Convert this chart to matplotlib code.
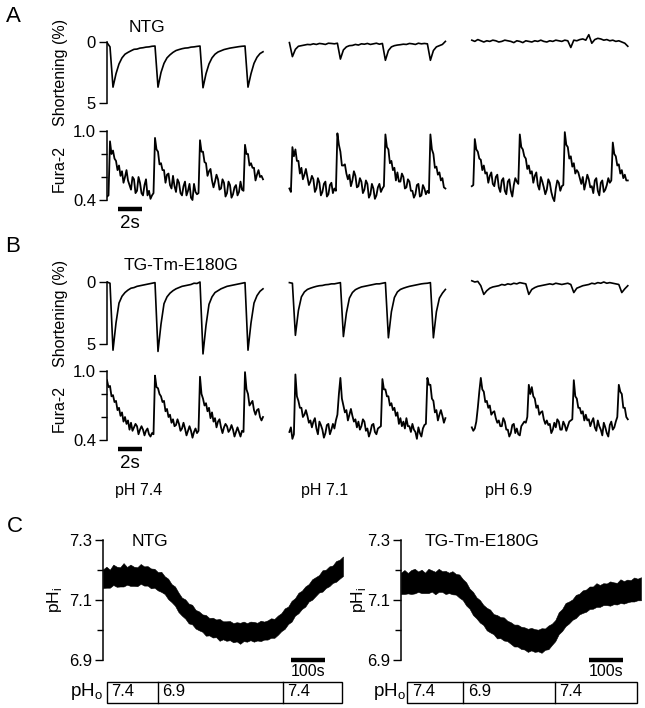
import matplotlib.pyplot as plt
import numpy as np
from matplotlib.patches import Rectangle
from matplotlib.transforms import blended_transform_factory

plt.rcParams['font.family'] = ['Liberation Sans', 'DejaVu Sans']
plt.rcParams['mathtext.fontset'] = 'custom'
plt.rcParams['mathtext.rm'] = 'Liberation Sans'

# ---- data: cell shortening (%) every 0.25 s, Fura-2 ratio every 0.125 s ----
DT_SHORT = 0.25
DT_FURA = 0.125
CONDITIONS = ['pH 7.4', 'pH 7.1', 'pH 6.9']
GENOTYPES = ['NTG', 'TG-Tm-E180G']

A_SHORT_74 = [0.05, 0.40, 3.70, 2.60, 1.80, 1.30, 1.00, 0.85, 0.72, 0.60,
              0.58, 0.50, 0.47, 0.42, 0.40, 0.35, 0.33, 3.70, 2.50, 1.75,
              1.30, 1.05, 0.85, 0.70, 0.62, 0.55, 0.50, 0.48, 0.42, 0.40,
              0.36, 0.33, 3.75, 2.60, 1.80, 1.30, 1.00, 0.82, 0.72, 0.62,
              0.56, 0.50, 0.46, 0.42, 0.38, 0.35, 0.33, 3.70, 2.60, 1.75,
              1.25, 0.95, 0.80]
A_SHORT_71 = [0.05, 1.20, 0.60, 0.35, 0.30, 0.25, 0.20, 0.22, 0.15, 0.20,
              0.12, 0.15, 0.20, 0.10, 0.12, 0.15, 0.10, 1.40, 0.65, 0.40,
              0.30, 0.28, 0.20, 0.25, 0.15, 0.18, 0.12, 0.20, 0.15, 0.10,
              0.18, 0.12, 1.50, 0.70, 0.40, 0.30, 0.25, 0.22, 0.18, 0.20,
              0.12, 0.15, 0.20, 0.10, 0.15, 0.12, 0.15, 1.50, 0.70, 0.40,
              0.30, 0.20, -0.05]
A_SHORT_69 = [-0.15, -0.05, -0.20, -0.10, 0.00, -0.10, -0.05, -0.15, -0.10, 0.00,
              -0.05, -0.15, -0.10, -0.05, 0.05, -0.10, -0.05, 0.05, -0.10, -0.05,
              0.00, -0.10, -0.05, -0.15, -0.05, 0.00, -0.10, -0.05, -0.15, -0.10,
              -0.05, -0.15, -0.10, 0.45, -0.15, -0.10, -0.20, -0.25, -0.15, -0.60,
              0.10, -0.20, -0.30, -0.25, -0.15, -0.20, -0.10, -0.15, -0.05, -0.10,
              0.00, 0.10, 0.35]

A_FURA_74 = [0.43, 0.44, 0.91, 0.80, 0.83, 0.76, 0.74, 0.66, 0.70, 0.61,
             0.65, 0.55, 0.60, 0.66, 0.57, 0.53, 0.49, 0.60, 0.58, 0.46,
             0.48, 0.60, 0.55, 0.46, 0.44, 0.53, 0.58, 0.44, 0.48, 0.41,
             0.44, 0.46, 0.94, 0.84, 0.82, 0.71, 0.72, 0.66, 0.66, 0.55,
             0.62, 0.63, 0.53, 0.50, 0.61, 0.52, 0.47, 0.58, 0.55, 0.46,
             0.44, 0.52, 0.56, 0.44, 0.48, 0.54, 0.42, 0.40, 0.54, 0.47,
             0.45, 0.46, 0.92, 0.82, 0.82, 0.73, 0.72, 0.61, 0.65, 0.67,
             0.57, 0.51, 0.56, 0.62, 0.58, 0.49, 0.50, 0.58, 0.55, 0.43,
             0.46, 0.56, 0.53, 0.42, 0.45, 0.51, 0.53, 0.44, 0.47, 0.56,
             0.49, 0.48, 0.88, 0.80, 0.80, 0.70, 0.72, 0.68, 0.68, 0.57,
             0.62, 0.66, 0.60, 0.61, 0.58]
A_FURA_71 = [0.50, 0.47, 0.86, 0.78, 0.84, 0.74, 0.74, 0.63, 0.68, 0.58,
             0.62, 0.67, 0.60, 0.53, 0.56, 0.61, 0.58, 0.47, 0.50, 0.59,
             0.55, 0.44, 0.47, 0.54, 0.56, 0.43, 0.45, 0.53, 0.55, 0.46,
             0.50, 0.48, 0.98, 0.88, 0.82, 0.70, 0.70, 0.71, 0.63, 0.58,
             0.62, 0.52, 0.57, 0.65, 0.61, 0.51, 0.52, 0.59, 0.56, 0.46,
             0.49, 0.57, 0.54, 0.42, 0.45, 0.54, 0.50, 0.41, 0.44, 0.51,
             0.54, 0.47, 0.50, 0.52, 0.97, 0.86, 0.84, 0.72, 0.74, 0.66,
             0.68, 0.57, 0.64, 0.56, 0.56, 0.63, 0.60, 0.50, 0.51, 0.58,
             0.56, 0.48, 0.48, 0.42, 0.45, 0.53, 0.54, 0.43, 0.44, 0.53,
             0.50, 0.45, 0.48, 0.46, 0.97, 0.84, 0.80, 0.68, 0.69, 0.62,
             0.64, 0.57, 0.59, 0.51, 0.50]
A_FURA_69 = [0.52, 0.53, 0.93, 0.84, 0.82, 0.76, 0.75, 0.66, 0.70, 0.63,
             0.64, 0.55, 0.61, 0.64, 0.54, 0.52, 0.60, 0.62, 0.51, 0.47,
             0.57, 0.59, 0.48, 0.45, 0.56, 0.58, 0.48, 0.43, 0.53, 0.59,
             0.56, 0.54, 0.97, 0.86, 0.84, 0.78, 0.76, 0.67, 0.70, 0.63,
             0.65, 0.55, 0.61, 0.64, 0.53, 0.49, 0.60, 0.56, 0.51, 0.45,
             0.49, 0.58, 0.55, 0.47, 0.42, 0.39, 0.50, 0.57, 0.55, 0.48,
             0.52, 0.53, 0.99, 0.88, 0.86, 0.76, 0.78, 0.69, 0.72, 0.63,
             0.66, 0.64, 0.59, 0.54, 0.60, 0.49, 0.55, 0.62, 0.58, 0.51,
             0.52, 0.46, 0.57, 0.59, 0.48, 0.44, 0.55, 0.57, 0.47, 0.49,
             0.53, 0.59, 0.55, 0.57, 0.90, 0.80, 0.78, 0.70, 0.71, 0.63,
             0.66, 0.59, 0.62, 0.57, 0.57]

B_SHORT_74 = [0.00, 0.10, 5.50, 3.30, 1.70, 1.15, 0.85, 0.65, 0.50, 0.45,
              0.35, 0.30, 0.25, 0.20, 0.15, 0.10, 0.05, 5.60, 3.40, 1.75,
              1.20, 0.90, 0.70, 0.55, 0.45, 0.35, 0.30, 0.25, 0.20, 0.10,
              0.12, 0.00, 5.80, 3.50, 1.80, 1.20, 0.85, 0.70, 0.55, 0.45,
              0.35, 0.30, 0.25, 0.20, 0.15, 0.10, 0.05, 5.50, 3.30, 1.70,
              1.10, 0.75, 0.55]
B_SHORT_71 = [0.05, 0.10, 4.30, 2.30, 1.20, 0.80, 0.60, 0.50, 0.42, 0.35,
              0.30, 0.28, 0.22, 0.20, 0.15, 0.15, 0.10, 0.05, 4.40, 2.50,
              1.30, 0.85, 0.62, 0.50, 0.40, 0.35, 0.30, 0.25, 0.20, 0.15,
              0.15, 0.10, 0.05, 4.50, 2.40, 1.25, 0.80, 0.60, 0.50, 0.42,
              0.35, 0.30, 0.25, 0.20, 0.15, 0.12, 0.10, 0.05, 4.50, 2.40,
              1.30, 0.90, 0.60]
B_SHORT_69 = [-0.10, 0.00, -0.05, 0.30, 1.00, 0.70, 0.50, 0.40, 0.35, 0.30,
              0.20, 0.25, 0.15, 0.20, 0.10, 0.15, 0.05, 0.10, 0.15, 1.00,
              0.60, 0.45, 0.35, 0.30, 0.25, 0.20, 0.15, 0.20, 0.10, 0.15,
              0.20, 0.15, 0.10, 0.20, 0.85, 0.50, 0.40, 0.30, 0.25, 0.20,
              0.10, 0.15, 0.05, 0.10, 0.00, 0.10, 0.05, 0.10, 0.15, 0.20,
              0.85, 0.55, 0.30]

B_FURA_74 = [0.92, 0.86, 0.87, 0.78, 0.79, 0.73, 0.74, 0.66, 0.68, 0.61,
             0.64, 0.56, 0.60, 0.54, 0.57, 0.49, 0.55, 0.48, 0.51, 0.54,
             0.52, 0.45, 0.49, 0.52, 0.49, 0.44, 0.48, 0.50, 0.45, 0.43,
             0.46, 0.45, 0.96, 0.86, 0.85, 0.80, 0.78, 0.73, 0.74, 0.65,
             0.67, 0.60, 0.62, 0.55, 0.58, 0.52, 0.53, 0.58, 0.54, 0.48,
             0.50, 0.55, 0.50, 0.44, 0.48, 0.52, 0.48, 0.42, 0.47, 0.50,
             0.46, 0.48, 0.95, 0.80, 0.76, 0.70, 0.72, 0.65, 0.68, 0.59,
             0.64, 0.56, 0.59, 0.51, 0.56, 0.58, 0.51, 0.46, 0.51, 0.54,
             0.52, 0.47, 0.49, 0.53, 0.49, 0.43, 0.47, 0.51, 0.47, 0.43,
             0.48, 0.47, 0.99, 0.84, 0.80, 0.70, 0.72, 0.74, 0.66, 0.62,
             0.66, 0.67, 0.60, 0.57, 0.60]
B_FURA_71 = [0.47, 0.51, 0.41, 0.45, 0.97, 0.78, 0.74, 0.68, 0.68, 0.60,
             0.62, 0.66, 0.61, 0.55, 0.57, 0.51, 0.56, 0.59, 0.50, 0.45,
             0.56, 0.53, 0.49, 0.42, 0.46, 0.53, 0.54, 0.45, 0.49, 0.54,
             0.50, 0.57, 0.62, 0.80, 0.94, 0.76, 0.70, 0.64, 0.66, 0.57,
             0.62, 0.67, 0.61, 0.56, 0.58, 0.51, 0.56, 0.49, 0.52, 0.58,
             0.56, 0.48, 0.50, 0.43, 0.47, 0.53, 0.54, 0.47, 0.45, 0.50,
             0.51, 0.52, 0.93, 0.84, 0.84, 0.78, 0.78, 0.70, 0.72, 0.66,
             0.68, 0.61, 0.64, 0.54, 0.59, 0.52, 0.56, 0.50, 0.59, 0.52,
             0.52, 0.47, 0.54, 0.49, 0.47, 0.41, 0.51, 0.46, 0.43, 0.50,
             0.53, 0.54, 0.94, 0.88, 0.88, 0.76, 0.74, 0.64, 0.66, 0.57,
             0.62, 0.66, 0.61, 0.55, 0.59]
B_FURA_69 = [0.51, 0.48, 0.50, 0.56, 0.68, 0.82, 0.94, 0.84, 0.82, 0.73,
             0.74, 0.68, 0.70, 0.62, 0.64, 0.65, 0.59, 0.55, 0.57, 0.52,
             0.52, 0.59, 0.56, 0.49, 0.49, 0.43, 0.46, 0.53, 0.54, 0.46,
             0.50, 0.45, 0.44, 0.52, 0.54, 0.56, 0.55, 0.60, 0.88, 0.80,
             0.86, 0.78, 0.76, 0.68, 0.70, 0.62, 0.64, 0.65, 0.58, 0.54,
             0.57, 0.53, 0.54, 0.46, 0.49, 0.55, 0.51, 0.58, 0.56, 0.49,
             0.49, 0.56, 0.53, 0.48, 0.52, 0.56, 0.57, 0.58, 0.92, 0.78,
             0.76, 0.68, 0.68, 0.63, 0.65, 0.57, 0.62, 0.57, 0.58, 0.52,
             0.56, 0.59, 0.51, 0.48, 0.57, 0.52, 0.49, 0.44, 0.55, 0.51,
             0.46, 0.43, 0.53, 0.56, 0.49, 0.51, 0.56, 0.60, 0.88, 0.82,
             0.80, 0.68, 0.68, 0.60, 0.58]

# ---- data: intracellular pH, every 10 s (centre of trace and noise band) ----
PHI_STEP = 10
NTG_PHI = [7.170, 7.175, 7.172, 7.178, 7.180, 7.175, 7.178, 7.180, 7.182, 7.178,
           7.180, 7.182, 7.180, 7.178, 7.175, 7.170, 7.165, 7.158, 7.148, 7.138,
           7.124, 7.110, 7.094, 7.080, 7.068, 7.058, 7.048, 7.038, 7.030, 7.022,
           7.016, 7.012, 7.008, 7.005, 7.002, 7.000, 6.998, 6.996, 6.995, 6.994,
           6.994, 6.993, 6.994, 6.995, 6.996, 6.996, 6.997, 6.998, 7.000, 7.003,
           7.008, 7.015, 7.025, 7.037, 7.050, 7.063, 7.076, 7.088, 7.100, 7.112,
           7.124, 7.134, 7.144, 7.153, 7.162, 7.170, 7.178, 7.186, 7.194, 7.202,
           7.210]
NTG_UP = [0.032, 0.036, 0.029, 0.040, 0.031, 0.034, 0.045, 0.030, 0.036, 0.033,
          0.029, 0.038, 0.032, 0.035, 0.030, 0.034, 0.028, 0.036, 0.031, 0.033,
          0.029, 0.035, 0.031, 0.028, 0.034, 0.030, 0.036, 0.029, 0.032, 0.030,
          0.034, 0.028, 0.033, 0.030, 0.035, 0.029, 0.031, 0.034, 0.028, 0.032,
          0.030, 0.035, 0.029, 0.033, 0.031, 0.028, 0.034, 0.030, 0.032, 0.036,
          0.029, 0.033, 0.031, 0.035, 0.028, 0.034, 0.030, 0.036, 0.031, 0.033,
          0.029, 0.035, 0.032, 0.030, 0.037, 0.031, 0.034, 0.029, 0.036, 0.032,
          0.035]
NTG_DN = [0.030, 0.034, 0.031, 0.028, 0.036, 0.030, 0.033, 0.029, 0.035, 0.031,
          0.034, 0.028, 0.032, 0.030, 0.036, 0.029, 0.033, 0.031, 0.028, 0.035,
          0.031, 0.029, 0.034, 0.032, 0.030, 0.036, 0.029, 0.033, 0.031, 0.028,
          0.035, 0.030, 0.033, 0.029, 0.038, 0.031, 0.034, 0.030, 0.036, 0.032,
          0.040, 0.030, 0.033, 0.029, 0.035, 0.031, 0.034, 0.030, 0.032, 0.029,
          0.034, 0.031, 0.029, 0.033, 0.030, 0.035, 0.028, 0.032, 0.030, 0.034,
          0.029, 0.033, 0.031, 0.028, 0.034, 0.030, 0.032, 0.029, 0.033, 0.031,
          0.030]
TG_PHI = [7.155, 7.158, 7.156, 7.160, 7.158, 7.160, 7.162, 7.158, 7.160, 7.162,
          7.160, 7.163, 7.160, 7.158, 7.158, 7.158, 7.152, 7.145, 7.136, 7.122,
          7.105, 7.088, 7.074, 7.062, 7.050, 7.038, 7.028, 7.020, 7.013, 7.008,
          7.003, 6.997, 6.990, 6.985, 6.980, 6.976, 6.972, 6.970, 6.968, 6.967,
          6.967, 6.968, 6.970, 6.975, 6.985, 7.000, 7.020, 7.035, 7.048, 7.058,
          7.068, 7.077, 7.085, 7.093, 7.100, 7.104, 7.108, 7.112, 7.115, 7.117,
          7.119, 7.120, 7.121, 7.122, 7.124, 7.126, 7.128, 7.130, 7.132, 7.133,
          7.135]
TG_UP = [0.036, 0.042, 0.034, 0.040, 0.046, 0.035, 0.039, 0.033, 0.044, 0.037,
         0.034, 0.041, 0.036, 0.039, 0.033, 0.038, 0.035, 0.040, 0.034, 0.037,
         0.033, 0.039, 0.035, 0.038, 0.034, 0.036, 0.040, 0.033, 0.037, 0.035,
         0.039, 0.034, 0.036, 0.033, 0.038, 0.035, 0.037, 0.034, 0.039, 0.036,
         0.034, 0.038, 0.035, 0.040, 0.036, 0.033, 0.039, 0.035, 0.042, 0.037,
         0.034, 0.040, 0.036, 0.039, 0.035, 0.041, 0.037, 0.044, 0.035, 0.039,
         0.036, 0.042, 0.038, 0.035, 0.045, 0.037, 0.040, 0.036, 0.043, 0.038,
         0.041]
TG_DN = [0.035, 0.038, 0.034, 0.040, 0.036, 0.033, 0.039, 0.035, 0.037, 0.034,
         0.041, 0.036, 0.033, 0.038, 0.035, 0.039, 0.034, 0.037, 0.036, 0.040,
         0.034, 0.038, 0.035, 0.037, 0.033, 0.039, 0.036, 0.034, 0.041, 0.035,
         0.038, 0.034, 0.036, 0.040, 0.035, 0.039, 0.037, 0.043, 0.036, 0.040,
         0.038, 0.044, 0.036, 0.039, 0.035, 0.037, 0.034, 0.038, 0.035, 0.036,
         0.034, 0.037, 0.033, 0.036, 0.039, 0.034, 0.037, 0.035, 0.038, 0.034,
         0.036, 0.039, 0.035, 0.037, 0.034, 0.038, 0.036, 0.035, 0.037, 0.034,
         0.036]

# extracellular pH protocol: box edges (s) and bath pH in each period
PHO_VALUES = ['7.4', '6.9', '7.4']
NTG_PHO_EDGES = [11, 159, 524, 697]
TG_PHO_EDGES = [18, 182, 449, 688]

# ---- layout (pixels of the 645 x 708 figure) ----
W, H = 645, 708
SEG_START = [0.0, 15.2, 30.4]   # s, where each pH recording is placed
PX_PER_S = 12.0

fig = plt.figure(figsize=(W / 100, H / 100), dpi=100)


def ftext(x, y, s, **kw):
    fig.text(x / W, 1 - y / H, s, **kw)


def px_axes(x0, x1, y0, y1):
    ax = fig.add_axes([x0 / W, 1 - y1 / H, (x1 - x0) / W, (y1 - y0) / H])
    ax.patch.set_visible(False)
    for side in ('top', 'right', 'bottom'):
        ax.spines[side].set_visible(False)
    ax.spines['left'].set_linewidth(1.1)
    ax.set_xticks([])
    return ax


def yaxis(ax, p_a, v_a, p_b, v_b, y0, y1, major, labels, minor=()):
    k = (v_b - v_a) / (p_b - p_a)
    ax.set_ylim(v_a + (y1 - p_a) * k, v_a + (y0 - p_a) * k)
    ax.spines['left'].set_bounds(min(v_a, v_b), max(v_a, v_b))
    ax.set_yticks(major)
    ax.set_yticklabels(labels)
    ax.set_yticks(list(minor), minor=True)
    ax.tick_params(axis='y', which='major', length=6, width=1.0,
                   labelsize=12, pad=2)
    ax.tick_params(axis='y', which='minor', length=4.5, width=1.0)


def hbar(ax, t0, t1, y_px, lw=3.2):
    tr = blended_transform_factory(ax.transData, fig.transFigure)
    ax.plot([t0, t1], [1 - y_px / H] * 2, transform=tr, color='k', lw=lw,
            solid_capstyle='butt', clip_on=False)


def traces(ax, segments, dt, lw):
    for off, vals in zip(SEG_START, segments):
        t = off + dt * np.arange(len(vals))
        ax.plot(t, vals, color='k', lw=lw)


rows = [
    # shortening px(0), px(5), fura px(1.0), px(0.4), data
    (42, 103, 131, 200, [A_SHORT_74, A_SHORT_71, A_SHORT_69],
     [A_FURA_74, A_FURA_71, A_FURA_69]),
    (282, 344, 371, 440, [B_SHORT_74, B_SHORT_71, B_SHORT_69],
     [B_FURA_74, B_FURA_71, B_FURA_69]),
]
xr = (640 - 107) / PX_PER_S
for s0, s5, f1, f4, short, fura in rows:
    ax = px_axes(107, 640, s0 - 12, s5 + 14)
    yaxis(ax, s0, 0, s5, 5, s0 - 12, s5 + 14, [0, 5], ['0', '5'])
    ax.set_xlim(0, xr)
    traces(ax, short, DT_SHORT, 1.2)
    ftext(60, (s0 + s5) / 2, 'Shortening (%)', rotation=90,
          ha='center', va='center', fontsize=11.5)

    ax = px_axes(107, 640, f1 - 12, f4 + 6)
    yaxis(ax, f1, 1.0, f4, 0.4, f1 - 12, f4 + 6, [0.4, 1.0], ['0.4', '1.0'],
          minor=[0.6, 0.8])
    ax.set_xlim(0, xr)
    traces(ax, fura, DT_FURA, 1.3)
    ftext(59, (f1 + f4) / 2 + 3, 'Fura-2', rotation=90,
          ha='center', va='center', fontsize=11.5)
    hbar(ax, 0.9, 2.9, f4 + 9)
    ax.text(1.9, 1 - (f4 + 23) / H, '2s', ha='center', va='center',
            fontsize=13.5,
            transform=blended_transform_factory(ax.transData, fig.transFigure))

ftext(13, 16, 'A', ha='center', va='center', fontsize=16)
ftext(13, 246, 'B', ha='center', va='center', fontsize=16)
ftext(15, 527, 'C', ha='center', va='center', fontsize=16)
ftext(147, 28, GENOTYPES[0], ha='center', va='center', fontsize=12.5)
ftext(181, 265, GENOTYPES[1], ha='center', va='center', fontsize=12.5)
for x, lab in zip([139, 325, 509], CONDITIONS):
    ftext(x, 490, lab, ha='center', va='center', fontsize=11.5)

# ---- panel C ----
panels = [(103, 343, NTG_PHI, NTG_UP, NTG_DN, NTG_PHO_EDGES, GENOTYPES[0], 150, 55, 86),
          (401, 641, TG_PHI, TG_UP, TG_DN, TG_PHO_EDGES, GENOTYPES[1], 482, 359, 389)]
for x0, x1, phi, up, dn, edges, name, name_x, lab_x, pho_x in panels:
    ax = px_axes(x0, x1, 530, 668)
    yaxis(ax, 540, 7.3, 660, 6.9, 530, 668, [6.9, 7.1, 7.3],
          ['6.9', '7.1', '7.3'], minor=[7.0, 7.2])
    ax.set_xlim(0, 700)
    phi = np.asarray(phi)
    t = PHI_STEP * np.arange(len(phi))
    ax.fill_between(t, phi - np.asarray(dn), phi + np.asarray(up),
                    color='k', lw=0.4)
    hbar(ax, 547, 647, 660)
    tr = blended_transform_factory(ax.transData, fig.transFigure)
    ax.text(597, 1 - 671 / H, '100s', ha='center', va='center',
            fontsize=11.5, transform=tr)
    ftext(name_x, 541, name, ha='center', va='center', fontsize=12.5)
    ftext(lab_x, 600, r'pH$_\mathregular{i}$', rotation=90,
          ha='center', va='center', fontsize=12.5)
    ftext(pho_x, 692, r'pH$_\mathregular{o}$', ha='center', va='center',
          fontsize=13.5)

    y0, y1 = 681.5, 702.5
    ax.add_patch(Rectangle((edges[0], 1 - y1 / H), edges[-1] - edges[0],
                           (y1 - y0) / H, transform=tr, fill=False, lw=1.0,
                           clip_on=False))
    for e in edges[1:-1]:
        ax.plot([e, e], [1 - y1 / H, 1 - y0 / H], transform=tr, color='k',
                lw=1.0, clip_on=False)
    for e, v in zip(edges[:-1], PHO_VALUES):
        ax.text(e + 13, 1 - (y0 + y1) / 2 / H, v, ha='left', va='center',
                fontsize=12, transform=tr)

fig.savefig('out.png', dpi=100)
